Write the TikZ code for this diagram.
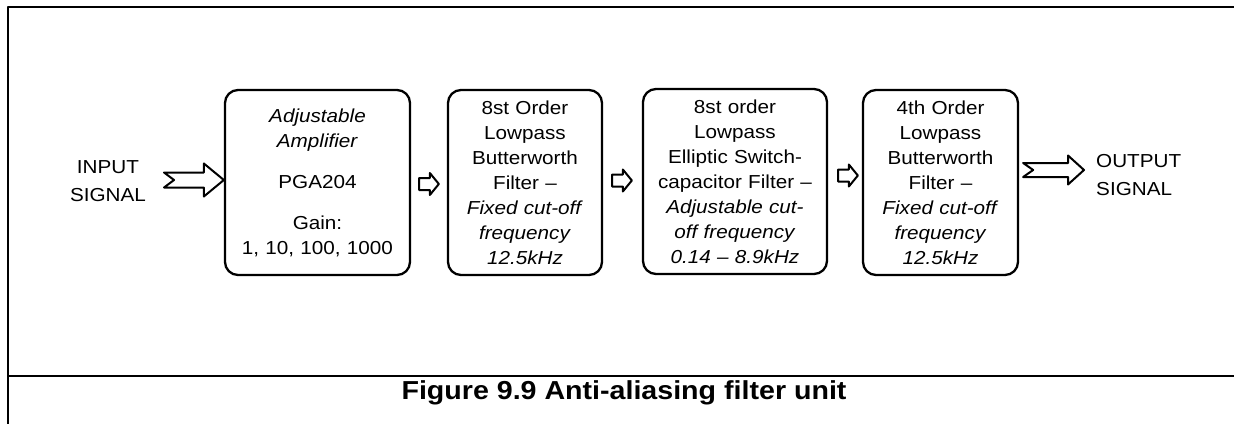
\documentclass[tikz,border=0pt]{standalone}
\usepackage{fontspec}
\setmainfont{Liberation Sans}[FakeStretch=1.1]
\usetikzlibrary{calc}

% hollow block arrow: tail, tip, shaft half, head half, head length, tail notch
\newcommand{\hollowarrow}[6]{%
  \draw[arrowline] let \p1=(#1), \p2=(#2) in
    (\x1,\y1+#3) -- (\x2-#5,\y1+#3) -- (\x2-#5,\y1+#4) -- (\x2,\y1)
    -- (\x2-#5,\y1-#4) -- (\x2-#5,\y1-#3) -- (\x1,\y1-#3) -- (\x1+#6,\y1) -- cycle;}

\begin{document}
\begin{tikzpicture}[x=1pt, y=1pt, line join=round,
    filterbox/.style={draw, line width=2.3, rounded corners=13, minimum height=185,
      inner sep=0, align=center, font=\fontsize{18.8}{25}\selectfont},
    sidelabel/.style={inner sep=0, font=\fontsize{18.8}{27.5}\selectfont},
    arrowline/.style={line width=2}]

  \useasboundingbox (0,0) rectangle (1234,424);

  % ==================== frame and caption ====================
  \draw[line width=2.5] (1234,417) -- (8,417) -- (8,0);
  \draw[line width=2.3] (8,48) -- (1234,48);
  \node[anchor=base, inner sep=0, font=\fontsize{26}{30}\selectfont\bfseries] (caption) at (624,25)
    {Figure 9.9 Anti-aliasing filter unit};

  % ==================== filter chain ====================
  \node[filterbox, text width=185] (amp) at (317.5,241.5)
    {\textit{Adjustable}\\ \textit{Amplifier}\\[16pt] PGA204\\[16pt] Gain:\\ 1, 10, 100, 1000};
  \node[filterbox, text width=154] (bw8) at (525,241.5)
    {8st Order\\ Lowpass\\ Butterworth\\ Filter –\\ \textit{Fixed cut-off}\\ \textit{frequency}\\ \textit{12.5kHz}};
  \node[filterbox, text width=184] (ell8) at (735,242.5)
    {8st order\\ Lowpass\\ Elliptic Switch-\\ capacitor Filter –\\ \textit{Adjustable cut-}\\ \textit{off frequency}\\ \textit{0.14 – 8.9kHz}};
  \node[filterbox, text width=155] (bw4) at (940.5,241.5)
    {4th Order\\ Lowpass\\ Butterworth\\ Filter –\\ \textit{Fixed cut-off}\\ \textit{frequency}\\ \textit{12.5kHz}};

  % input and output
  \node[sidelabel, align=center] (inlabel) at (108,243) {INPUT\\SIGNAL};
  \node[sidelabel, align=left, anchor=west] (outlabel) at (1096,249) {OUTPUT\\SIGNAL};
  \coordinate (intail) at (164,244);
  \coordinate (outtip) at (1084,254);

  % ==================== arrows ====================
  \hollowarrow{intail}{amp.west}{7.5pt}{16.5pt}{20pt}{10pt}
  \hollowarrow{$(amp.east)+(8,-1.5)$}{$(bw8.west)+(-8,0)$}{6pt}{11pt}{9pt}{0pt}
  \hollowarrow{$(bw8.east)+(9,2)$}{$(ell8.west)+(-10,0)$}{6pt}{11pt}{9pt}{0pt}
  \hollowarrow{$(ell8.east)+(10,6)$}{$(bw4.west)+(-4,0)$}{6pt}{11pt}{9pt}{0pt}
  \hollowarrow{$(bw4.east)+(4,12.5)$}{outtip}{7pt}{14.5pt}{16pt}{10pt}
\end{tikzpicture}
\end{document}
